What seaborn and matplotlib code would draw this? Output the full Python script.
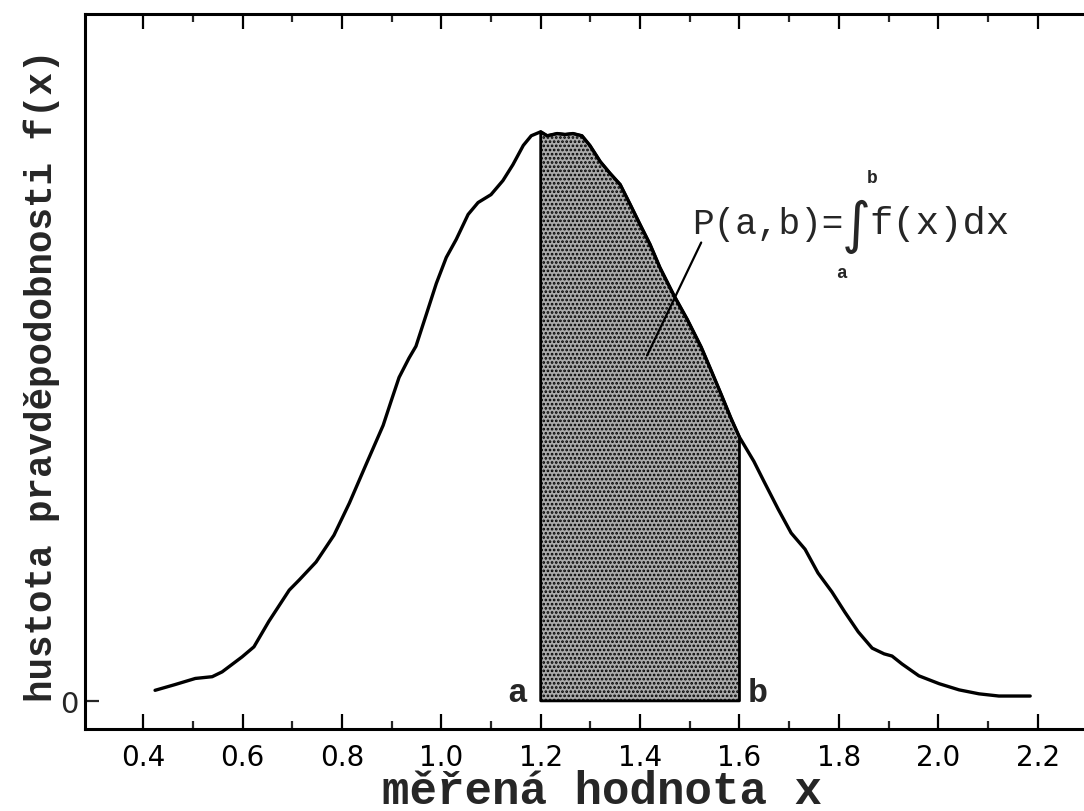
import matplotlib
matplotlib.use("Agg")
import matplotlib.pyplot as plt
import seaborn as sns
import numpy as np

curve_x = [0.424, 0.464, 0.505, 0.539, 0.559, 0.599, 0.623, 0.653, 0.694, 0.714,
           0.748, 0.784, 0.815, 0.849, 0.883, 0.899, 0.915, 0.935, 0.949, 0.970,
           0.990, 1.010, 1.030, 1.054, 1.074, 1.100, 1.124, 1.144, 1.165, 1.181,
           1.200, 1.213, 1.233, 1.249, 1.265, 1.283, 1.299, 1.320, 1.340, 1.360,
           1.380, 1.400, 1.420, 1.440, 1.468, 1.495, 1.523, 1.543, 1.563, 1.583,
           1.600, 1.629, 1.649, 1.678, 1.704, 1.732, 1.758, 1.786, 1.812, 1.839,
           1.867, 1.891, 1.907, 1.927, 1.961, 2.002, 2.042, 2.082, 2.122, 2.163,
           2.185]
curve_y = [0.024, 0.037, 0.051, 0.055, 0.066, 0.100, 0.123, 0.181, 0.252, 0.275,
           0.316, 0.377, 0.450, 0.539, 0.627, 0.682, 0.736, 0.780, 0.807, 0.880,
           0.950, 1.009, 1.050, 1.107, 1.134, 1.152, 1.184, 1.220, 1.264, 1.286,
           1.295, 1.286, 1.291, 1.289, 1.291, 1.286, 1.264, 1.227, 1.200, 1.175,
           1.130, 1.084, 1.039, 0.986, 0.923, 0.868, 0.805, 0.752, 0.698, 0.643,
           0.600, 0.545, 0.500, 0.436, 0.382, 0.345, 0.291, 0.248, 0.202, 0.157,
           0.120, 0.107, 0.102, 0.084, 0.057, 0.039, 0.025, 0.016, 0.011, 0.011,
           0.011]

a_val = 1.2
b_val = 1.6
x_ticks = [0.4, 0.6, 0.8, 1.0, 1.2, 1.4, 1.6, 1.8, 2.0, 2.2]
x_tick_labels = ["0.4", "0.6", "0.8", "1.0", "1.2", "1.4", "1.6", "1.8", "2.0", "2.2"]
x_minor = [0.5, 0.7, 0.9, 1.1, 1.3, 1.5, 1.7, 1.9, 2.1]

MONO = ["Liberation Mono", "DejaVu Sans Mono"]

sns.set_style("ticks")
plt.rcParams["hatch.linewidth"] = 1.3

fig = plt.figure(figsize=(10.84, 8.12), dpi=100)
ax = fig.add_axes([0.0784, 0.1010, 0.9476, 0.8805])

cx = np.array(curve_x)
cy = np.array(curve_y)
mask = (cx >= a_val) & (cx <= b_val)
ax.fill_between(cx[mask], 0, cy[mask], facecolor="#ababab", edgecolor="black",
                hatch="....", linewidth=2, zorder=2)

sns.lineplot(x=curve_x, y=curve_y, color="black", linewidth=2.4, ax=ax, zorder=3)

# formula with leader line
ax.annotate("", xy=(1.414, 0.786), xytext=(1.523, 1.043),
            arrowprops=dict(arrowstyle="-", color="black", lw=1.6,
                            shrinkA=0, shrinkB=0))
ax.text(1.505, 1.064, "P(a,b)=", fontsize=26, family=MONO, ha="left", va="baseline")
ax.text(1.835, 1.080, "\u222b", fontsize=40, family="DejaVu Sans", ha="center", va="center")
ax.text(1.862, 1.064, "f(x)dx", fontsize=28, family=MONO, ha="left", va="baseline")
ax.text(1.867, 1.191, "b", fontsize=13, fontweight="bold", ha="center", va="center",
        family=MONO)
ax.text(1.806, 0.975, "a", fontsize=13, fontweight="bold", ha="center", va="center",
        family=MONO)

ax.text(1.153, 0.0, "a", fontsize=24, fontweight="bold", ha="center", va="baseline",
        family=MONO)
ax.text(1.637, 0.0, "b", fontsize=24, fontweight="bold", ha="center", va="baseline",
        family=MONO)

ax.set_xlim(0.283, 2.35)
ax.set_ylim(-0.064, 1.563)

ax.set_xticks(x_ticks)
ax.set_xticklabels(x_tick_labels, fontsize=20, family="DejaVu Sans")
ax.set_xticks(x_minor, minor=True)
ax.set_yticks([0])
ax.set_yticklabels(["0"], fontsize=21, family="DejaVu Sans")

ax.tick_params(axis="x", which="major", direction="in", length=11, width=1.6,
               top=True, bottom=True, pad=10, colors="black")
ax.tick_params(axis="x", which="minor", direction="in", length=6, width=1.6,
               top=True, bottom=True)
ax.tick_params(axis="y", which="major", direction="in", length=10, width=1.6,
               left=True, right=False, pad=5)

for side in ["left", "bottom", "top"]:
    ax.spines[side].set_linewidth(2.2)
    ax.spines[side].set_color("black")
ax.spines["right"].set_visible(False)

ax.set_xlabel("m\u011b\u0159en\u00e1 hodnota x", fontsize=33, family=MONO,
              fontweight="bold", va="baseline")
ax.set_ylabel("hustota pravd\u011bpodobnosti f(x)", fontsize=27, family=MONO,
              fontweight="bold")
ax.xaxis.set_label_coords(0.503, -0.1030)
ax.yaxis.set_label_coords(-0.024, 0.495)

fig.savefig("out.png", dpi=100)
